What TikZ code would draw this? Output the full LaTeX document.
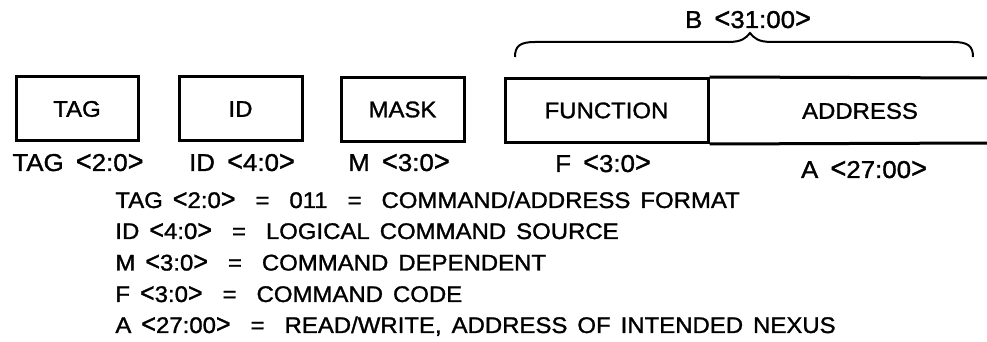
\documentclass[tikz,border=0pt]{standalone}
\usepackage{fontspec}
\setmainfont{Liberation Sans}[FakeStretch=1.06, WordSpace=1.5, FakeBold=1.3]
\newcommand{\lsym}{\scalebox{1.05}[1.2]{<}}
\newcommand{\gsym}{\scalebox{1.05}[1.2]{>}}
\begin{document}
\begin{tikzpicture}[x=0.5pt,y=-0.5pt,
  every node/.style={font=\fontsize{11.3}{13}\selectfont, inner sep=0pt},
  field/.style={draw, line width=1.5pt, minimum height=32pt},
  lbl/.style={anchor=base, font=\fontsize{12.2}{14}\selectfont},
  desc/.style={anchor=base west},
  brace/.style={line width=1pt}]
\useasboundingbox (0,0) rectangle (987,342);
% fields
\node[field, minimum width=61pt] (tag) at (77,109) {TAG};
\node[field, minimum width=61.5pt] (id) at (240.5,109) {ID};
\node[field, minimum width=61.5pt] (mask) at (402.5,109.5) {MASK};
\node[field, minimum width=101.5pt] (func) at (606.5,110.5) {FUNCTION};
\node (addr) at (860,111) {ADDRESS};
\coordinate (rtop) at (990,78);
\coordinate (rbot) at (990,143);
\draw[line width=1.5pt] (func.north east) -- (rtop);
\draw[line width=1.5pt] (func.south east) -- (rbot);
% labels
\node[lbl] (ltag) at (78,171) {TAG\hspace{0.5em}\lsym2:0\gsym};
\node[lbl] (lid) at (242,171) {ID\hspace{0.5em}\lsym4:0\gsym};
\node[lbl] (lmask) at (399,171) {M\hspace{0.5em}\lsym3:0\gsym};
\node[lbl] (lfunc) at (603,172) {F\hspace{0.5em}\lsym3:0\gsym};
\node[lbl] (laddr) at (864,178) {A\hspace{0.5em}\lsym27:00\gsym};
% brace
\coordinate (bl) at (515,57);
\coordinate (br) at (973,57);
\coordinate (bt) at (750,33);
\draw[brace] (bl) .. controls (515,46) and (520,42) .. (535,42)
  -- (728,42) .. controls (742,42) and (746,38) .. (bt)
  .. controls (754,38) and (758,42) .. (772,42)
  -- (953,42) .. controls (968,42) and (973,46) .. (br);
\node[lbl] (lb) at (748,28) {B\hspace{0.5em}\lsym31:00\gsym};
% descriptions
\node[desc] (d1) at (115,208) {TAG \lsym2:0\gsym\ \ = \ 011 \ = \ COMMAND/ADDRESS FORMAT};
\node[desc] (d2) at (115,239) {ID \lsym4:0\gsym\ \ = \ LOGICAL COMMAND SOURCE};
\node[desc] (d3) at (115,270.5) {M \lsym3:0\gsym\ \ = \ COMMAND DEPENDENT};
\node[desc] (d4) at (115,302) {F \lsym3:0\gsym\ \ = \ COMMAND CODE};
\node[desc] (d5) at (115,333) {A \lsym27:00\gsym\ \ = \ READ/WRITE, ADDRESS OF INTENDED NEXUS};
\end{tikzpicture}
\end{document}
